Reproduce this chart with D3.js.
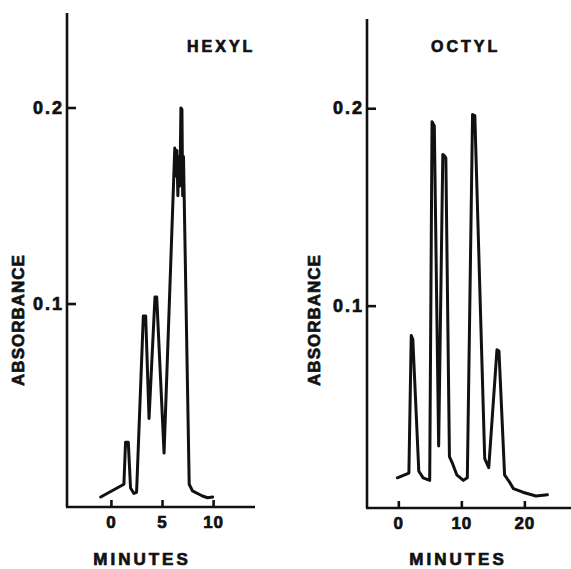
<!DOCTYPE html>
<html>
<head>
<meta charset="utf-8">
<script src="https://cdn.jsdelivr.net/npm/d3@7"></script>
<style>
  body { margin: 0; background: #fff; }
  text { font-family: "Liberation Sans", Arial, sans-serif; font-weight: bold; fill: #111; stroke: #111; stroke-width: 0.7px; }
</style>
</head>
<body>
<script>
// Hexyl column trace
const hexylMinutes = [-1.0, 1.27, 1.43, 1.70, 1.92, 2.25, 2.51, 3.17, 3.40, 3.73, 4.31, 4.48, 5.20,
  6.25, 6.35, 6.45, 6.55, 6.65, 6.75, 6.85, 6.95, 7.02, 7.10, 7.66, 7.98, 8.96, 9.46, 9.95];
const hexylAbs = [0.0013, 0.0078, 0.0292, 0.0292, 0.0059, 0.0031, 0.0037, 0.0936, 0.0936, 0.0414, 0.1033, 0.1033, 0.0237,
  0.1793, 0.1650, 0.1780, 0.1550, 0.1750, 0.1600, 0.1998, 0.1990, 0.1550, 0.1750, 0.0078, 0.0044, 0.0018, 0.0009, 0.0013];

// Octyl column trace
const octylMinutes = [-0.16, 1.68, 2.05, 2.30, 3.25, 3.94, 4.98, 5.35, 5.71, 6.40, 7.06, 7.30, 7.54, 8.11, 8.63, 9.27,
  10.32, 10.95, 11.78, 12.14, 13.71, 14.35, 15.65, 15.97, 16.86, 17.65, 18.27, 19.75, 21.83, 23.65];
const octylAbs = [0.0128, 0.0152, 0.0849, 0.0830, 0.0161, 0.0128, 0.0115, 0.1932, 0.1910, 0.0289, 0.1766, 0.1760, 0.1748, 0.0235, 0.0198, 0.0143,
  0.0115, 0.0128, 0.1968, 0.1963, 0.0225, 0.0179, 0.0776, 0.0770, 0.0143, 0.0106, 0.0073, 0.0055, 0.0036, 0.0042];

const yTicks = [0.1, 0.2];
const hexylXTicks = [0, 5, 10];
const octylXTicks = [0, 10, 20];

const svg = d3.select("body").append("svg")
  .attr("width", 571)
  .attr("height", 569);

function panel(o) {
  const x = d3.scaleLinear().domain(o.xDomain).range(o.xRange);
  const y = d3.scaleLinear().domain(o.yDomain).range(o.yRange);
  const g = svg.append("g");

  // axes lines
  g.append("line")
    .attr("x1", o.xRange[0]).attr("x2", o.xRange[0])
    .attr("y1", o.yRange[1]).attr("y2", o.yRange[0])
    .attr("stroke", "#111").attr("stroke-width", 2.6);
  g.append("line")
    .attr("x1", o.xRange[0] - 1).attr("x2", o.xRange[1])
    .attr("y1", o.yRange[0]).attr("y2", o.yRange[0])
    .attr("stroke", "#111").attr("stroke-width", 2.6);

  const yAxis = g.append("g")
    .attr("transform", "translate(" + o.xRange[0] + ",0)")
    .call(d3.axisLeft(y).tickValues(yTicks).tickSize(-9).tickPadding(3)
      .tickFormat(d => d.toFixed(1)));
  yAxis.select(".domain").remove();
  yAxis.selectAll("line").attr("stroke", "#111").attr("stroke-width", 2.6);
  yAxis.selectAll("text").attr("font-size", 18).attr("letter-spacing", 2)
    .attr("font-family", null).attr("fill", "#111");

  const xAxis = g.append("g")
    .attr("transform", "translate(0," + o.yRange[0] + ")")
    .call(d3.axisBottom(x).tickValues(o.xTicks).tickSize(-7).tickPadding(9));
  xAxis.select(".domain").remove();
  xAxis.selectAll("line").attr("stroke", "#111").attr("stroke-width", 2.6);
  xAxis.selectAll("text").attr("font-size", 17).attr("letter-spacing", 1)
    .attr("font-family", null).attr("fill", "#111");

  const line = d3.line().x((d, i) => x(o.minutes[i])).y(d => y(d));
  g.append("path")
    .datum(o.abs)
    .attr("d", line)
    .attr("fill", "none")
    .attr("stroke", "#111")
    .attr("stroke-width", 3)
    .attr("stroke-linejoin", "round")
    .attr("stroke-linecap", "round");

  g.append("text")
    .attr("x", o.titleX).attr("y", 52)
    .attr("font-size", 16).attr("letter-spacing", 3)
    .text(o.title);

  g.append("text")
    .attr("transform", "translate(" + o.labelX + ",320) rotate(-90)")
    .attr("text-anchor", "middle")
    .attr("font-size", 17).attr("letter-spacing", 1)
    .text("ABSORBANCE");

  g.append("text")
    .attr("x", o.minX).attr("y", 565)
    .attr("text-anchor", "middle")
    .attr("font-size", 17).attr("letter-spacing", 3)
    .text("MINUTES");
}

panel({
  title: "HEXYL", titleX: 187, labelX: 24, minX: 142,
  minutes: hexylMinutes, abs: hexylAbs, xTicks: hexylXTicks,
  xDomain: [-4.3, 14.1], xRange: [67, 255],
  yDomain: [-0.0038, 0.2482], yRange: [507, 13]
});

panel({
  title: "OCTYL", titleX: 431, labelX: 320, minX: 458,
  minutes: octylMinutes, abs: octylAbs, xTicks: octylXTicks,
  xDomain: [-4.97, 27.4], xRange: [367, 571],
  yDomain: [-0.0025, 0.2452], yRange: [508, 19]
});
</script>
</body>
</html>
